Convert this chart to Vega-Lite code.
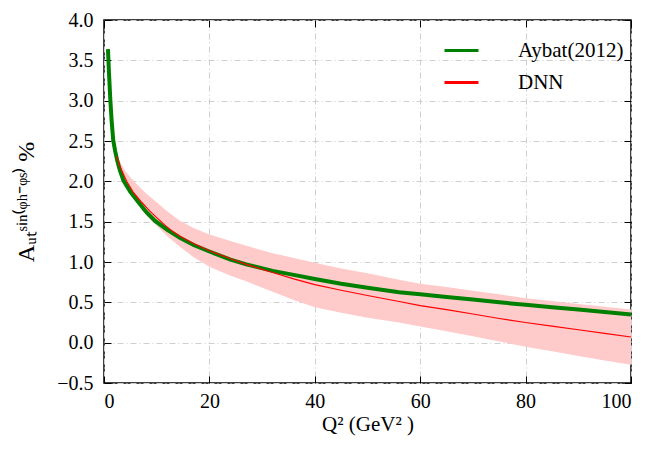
{
  "$schema": "https://vega.github.io/schema/vega-lite/v6.json",
  "width": 527,
  "height": 363,
  "autosize": {"type": "none"},
  "padding": {"left": 104, "top": 20, "right": 21, "bottom": 66},
  "background": "white",
  "config": {
    "font": "Liberation Serif",
    "view": {"stroke": "black", "strokeWidth": 1.5},
    "text": {"font": "Liberation Serif"},
    "axis": {
      "labelFont": "Liberation Serif",
      "titleFont": "Liberation Serif",
      "labelFontSize": 20,
      "titleFontSize": 21,
      "labelColor": "black",
      "titleColor": "black",
      "titleFontWeight": "normal",
      "domain": false,
      "tickColor": "black",
      "tickWidth": 1,
      "gridColor": "#cfcfcf",
      "gridDash": [6, 3, 1, 3],
      "gridWidth": 1
    },
    "legend": {
      "labelFont": "Liberation Serif",
      "labelFontSize": 21,
      "labelColor": "black"
    }
  },
  "datasets": {
    "aybat": [
      {"series": "Aybat(2012)", "q2": 0.75, "v": 3.64},
      {"series": "Aybat(2012)", "q2": 0.95, "v": 3.34},
      {"series": "Aybat(2012)", "q2": 1.2, "v": 3.01},
      {"series": "Aybat(2012)", "q2": 1.45, "v": 2.75},
      {"series": "Aybat(2012)", "q2": 1.75, "v": 2.51},
      {"series": "Aybat(2012)", "q2": 2.1, "v": 2.38},
      {"series": "Aybat(2012)", "q2": 2.5, "v": 2.26},
      {"series": "Aybat(2012)", "q2": 3.0, "v": 2.14},
      {"series": "Aybat(2012)", "q2": 3.7, "v": 2.01},
      {"series": "Aybat(2012)", "q2": 5.0, "v": 1.87},
      {"series": "Aybat(2012)", "q2": 6.8, "v": 1.72},
      {"series": "Aybat(2012)", "q2": 8.0, "v": 1.62},
      {"series": "Aybat(2012)", "q2": 9.7, "v": 1.51},
      {"series": "Aybat(2012)", "q2": 12, "v": 1.40},
      {"series": "Aybat(2012)", "q2": 14.4, "v": 1.30},
      {"series": "Aybat(2012)", "q2": 17, "v": 1.21},
      {"series": "Aybat(2012)", "q2": 20, "v": 1.13},
      {"series": "Aybat(2012)", "q2": 24, "v": 1.03},
      {"series": "Aybat(2012)", "q2": 27, "v": 0.97},
      {"series": "Aybat(2012)", "q2": 32, "v": 0.89},
      {"series": "Aybat(2012)", "q2": 36, "v": 0.84},
      {"series": "Aybat(2012)", "q2": 40, "v": 0.79},
      {"series": "Aybat(2012)", "q2": 45, "v": 0.73},
      {"series": "Aybat(2012)", "q2": 50, "v": 0.68},
      {"series": "Aybat(2012)", "q2": 56, "v": 0.625},
      {"series": "Aybat(2012)", "q2": 60, "v": 0.60},
      {"series": "Aybat(2012)", "q2": 65, "v": 0.565},
      {"series": "Aybat(2012)", "q2": 70, "v": 0.535},
      {"series": "Aybat(2012)", "q2": 75, "v": 0.50},
      {"series": "Aybat(2012)", "q2": 80, "v": 0.47},
      {"series": "Aybat(2012)", "q2": 85, "v": 0.44},
      {"series": "Aybat(2012)", "q2": 90, "v": 0.41},
      {"series": "Aybat(2012)", "q2": 95, "v": 0.38},
      {"series": "Aybat(2012)", "q2": 100, "v": 0.35}
    ],
    "dnn": [
      {"series": "DNN", "q2": 2.4, "v": 2.31},
      {"series": "DNN", "q2": 3.0, "v": 2.19},
      {"series": "DNN", "q2": 3.6, "v": 2.10},
      {"series": "DNN", "q2": 4.3, "v": 2.00},
      {"series": "DNN", "q2": 5.5, "v": 1.87},
      {"series": "DNN", "q2": 7, "v": 1.75},
      {"series": "DNN", "q2": 8.7, "v": 1.63},
      {"series": "DNN", "q2": 10, "v": 1.55},
      {"series": "DNN", "q2": 11.5, "v": 1.46},
      {"series": "DNN", "q2": 13, "v": 1.38},
      {"series": "DNN", "q2": 14.4, "v": 1.32},
      {"series": "DNN", "q2": 17, "v": 1.23},
      {"series": "DNN", "q2": 20, "v": 1.14},
      {"series": "DNN", "q2": 24, "v": 1.04},
      {"series": "DNN", "q2": 27, "v": 0.97},
      {"series": "DNN", "q2": 32, "v": 0.87},
      {"series": "DNN", "q2": 36, "v": 0.79},
      {"series": "DNN", "q2": 40, "v": 0.72},
      {"series": "DNN", "q2": 45, "v": 0.65},
      {"series": "DNN", "q2": 50, "v": 0.585},
      {"series": "DNN", "q2": 56, "v": 0.51},
      {"series": "DNN", "q2": 60, "v": 0.46},
      {"series": "DNN", "q2": 65, "v": 0.41},
      {"series": "DNN", "q2": 70, "v": 0.355},
      {"series": "DNN", "q2": 75, "v": 0.30},
      {"series": "DNN", "q2": 80, "v": 0.25},
      {"series": "DNN", "q2": 85, "v": 0.205},
      {"series": "DNN", "q2": 90, "v": 0.16},
      {"series": "DNN", "q2": 95, "v": 0.115},
      {"series": "DNN", "q2": 100, "v": 0.07}
    ],
    "band": [
      {"q2": 2.4, "lo": 2.28, "hi": 2.34},
      {"q2": 3.0, "lo": 2.15, "hi": 2.25},
      {"q2": 4, "lo": 1.99, "hi": 2.13},
      {"q2": 5, "lo": 1.88, "hi": 2.05},
      {"q2": 6, "lo": 1.77, "hi": 1.98},
      {"q2": 8, "lo": 1.58, "hi": 1.85},
      {"q2": 10, "lo": 1.45, "hi": 1.74},
      {"q2": 12, "lo": 1.32, "hi": 1.63},
      {"q2": 14.4, "lo": 1.19, "hi": 1.51},
      {"q2": 17, "lo": 1.06, "hi": 1.42},
      {"q2": 20, "lo": 0.94, "hi": 1.34},
      {"q2": 24, "lo": 0.83, "hi": 1.26},
      {"q2": 27, "lo": 0.76, "hi": 1.20},
      {"q2": 32, "lo": 0.63, "hi": 1.11},
      {"q2": 36, "lo": 0.53, "hi": 1.05},
      {"q2": 40, "lo": 0.44, "hi": 0.99},
      {"q2": 45, "lo": 0.37, "hi": 0.92},
      {"q2": 50, "lo": 0.31, "hi": 0.86},
      {"q2": 56, "lo": 0.25, "hi": 0.78},
      {"q2": 60, "lo": 0.20, "hi": 0.73},
      {"q2": 65, "lo": 0.14, "hi": 0.69},
      {"q2": 70, "lo": 0.08, "hi": 0.645},
      {"q2": 75, "lo": 0.015, "hi": 0.60},
      {"q2": 80, "lo": -0.05, "hi": 0.55},
      {"q2": 85, "lo": -0.105, "hi": 0.515},
      {"q2": 90, "lo": -0.165, "hi": 0.48},
      {"q2": 95, "lo": -0.22, "hi": 0.445},
      {"q2": 100, "lo": -0.275, "hi": 0.41}
    ]
  },
  "resolve": {"axis": {"x": "independent", "y": "independent"}},
  "layer": [
    {
      "data": {"name": "band"},
      "mark": {"type": "area", "color": "#ffcaca", "opacity": 1},
      "encoding": {
        "x": {
          "field": "q2", "type": "quantitative",
          "scale": {"domain": [0, 100], "nice": false, "zero": false},
          "axis": {
            "title": "Q²  (GeV² )",
            "values": [0, 20, 40, 60, 80, 100],
            "tickSize": -7,
            "labelPadding": 15,
            "titlePadding": 2,
            "labelFont": "Liberation Serif",
            "titleFont": "Liberation Serif",
            "grid": true
          }
        },
        "y": {
          "field": "lo", "type": "quantitative",
          "scale": {"domain": [-0.5, 4.0], "nice": false, "zero": false},
          "axis": {
            "title": "Aᵤₜˢⁱⁿ⁽ᵠʰ⁻ᵠˢ⁾ %",
            "values": [-0.5, 0, 0.5, 1, 1.5, 2, 2.5, 3, 3.5, 4],
            "format": ".1f",
            "tickSize": -7,
            "labelPadding": 18,
            "titlePadding": 18,
            "titleFontSize": 24,
            "labelFont": "Liberation Serif",
            "titleFont": "Liberation Serif",
            "grid": true
          }
        },
        "y2": {"field": "hi"}
      }
    },
    {
      "data": {"name": "aybat"},
      "mark": {"type": "line", "strokeWidth": 4},
      "encoding": {
        "x": {"field": "q2", "type": "quantitative", "axis": null},
        "y": {"field": "v", "type": "quantitative", "axis": null},
        "color": {
          "field": "series", "type": "nominal",
          "scale": {"domain": ["Aybat(2012)", "DNN"], "range": ["#008000", "#ff0000"]},
          "legend": {
            "title": null,
            "orient": "none",
            "legendX": 339,
            "legendY": 12,
            "padding": 0,
            "symbolType": "stroke",
            "symbolSize": 1156,
            "symbolStrokeWidth": 3,
            "labelOffset": 38,
            "rowPadding": 3,
            "labelFont": "Liberation Serif"
          }
        }
      }
    },
    {
      "data": {"name": "dnn"},
      "mark": {"type": "line", "strokeWidth": 1.2},
      "encoding": {
        "x": {
          "field": "q2", "type": "quantitative",
          "axis": {"orient": "top", "labels": false, "title": null, "grid": false, "tickSize": -7, "values": [0, 20, 40, 60, 80, 100]}
        },
        "y": {
          "field": "v", "type": "quantitative",
          "axis": {"orient": "right", "labels": false, "title": null, "grid": false, "tickSize": -7, "values": [-0.5, 0, 0.5, 1, 1.5, 2, 2.5, 3, 3.5, 4]}
        },
        "color": {"field": "series", "type": "nominal"}
      }
    }
  ]
}
